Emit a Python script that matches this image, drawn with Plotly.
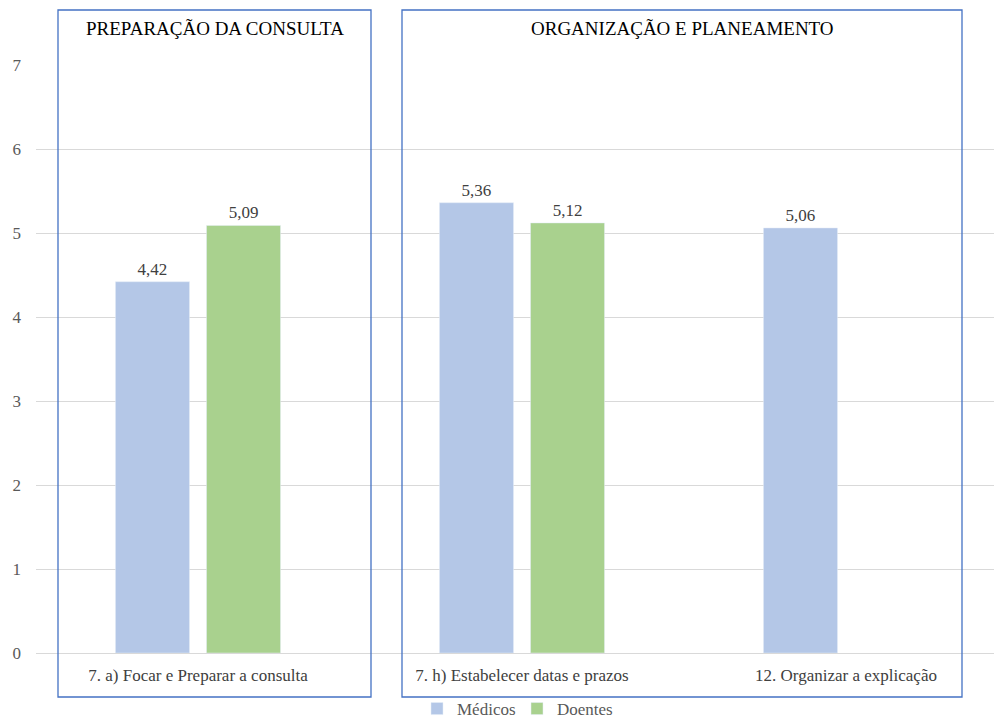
import plotly.graph_objects as go

categories = ["7. a) Focar e Preparar a consulta",
              "7. h) Estabelecer datas e prazos",
              "12. Organizar a explicação"]
medicos = [4.42, 5.36, 5.06]
doentes = [5.09, 5.12, None]
group_titles = ["PREPARAÇÃO DA CONSULTA", "ORGANIZAÇÃO E PLANEAMENTO"]
y_ticks = [0, 1, 2, 3, 4, 5, 6, 7]

FONT = "Liberation Serif"

fig = go.Figure()
fig.add_trace(go.Bar(name="Médicos", x=categories, y=medicos,
                     marker_color="#B4C7E7",
                     texttemplate="%{y:.2f}", textposition="outside",
                     textfont=dict(family=FONT, size=17, color="#404040"),
                     cliponaxis=False))
fig.add_trace(go.Bar(name="Doentes", x=categories, y=doentes,
                     marker_color="#A9D18E",
                     texttemplate="%{y:.2f}", textposition="outside",
                     textfont=dict(family=FONT, size=17, color="#404040"),
                     cliponaxis=False))

W, H = 994, 718
L, R, T, B = 36, 0, 65, 65
pw, ph = W - L - R, H - T - B

def px(x):
    return (x - L) / pw

def py(y):
    return (H - B - y) / ph

boxes = [(58, 10, 371, 697), (402, 10, 962, 697)]
for (x0, y0, x1, y1) in boxes:
    fig.add_shape(type="rect", xref="paper", yref="paper",
                  x0=px(x0), x1=px(x1), y0=py(y1), y1=py(y0),
                  line=dict(color="#4472C4", width=1.3), layer="above")

for (x0, y0, x1, y1), t in zip(boxes, group_titles):
    fig.add_annotation(xref="paper", yref="paper", x=px((x0 + x1) / 2), y=py(29),
                       text=t, showarrow=False, xanchor="center", yanchor="middle",
                       font=dict(family=FONT, size=19, color="#000000"))

fig.update_layout(
    width=W, height=H,
    margin=dict(l=L, r=R, t=T, b=B, autoexpand=False),
    paper_bgcolor="white", plot_bgcolor="white",
    separators=",.",
    barmode="group", bargap=0.438, bargroupgap=0.187,
    font=dict(family=FONT, color="#595959"),
    showlegend=True,
    legend=dict(orientation="h", x=px(517), xanchor="center", y=py(709), yanchor="middle",
                font=dict(family=FONT, size=17, color="#595959"),
                bgcolor="rgba(0,0,0,0)", itemwidth=30, entrywidth=55,
                traceorder="normal"),
)
fig.update_xaxes(range=[-0.5, 2.5 - 14 / 324], showgrid=False, showline=False,
                 automargin=False,
                 ticks="", tickfont=dict(family=FONT, size=17, color="#404040"),
                 ticklabelstandoff=10)
fig.update_yaxes(range=[0, 7], tickvals=y_ticks, showgrid=True, gridcolor="#D9D9D9",
                 gridwidth=1, zeroline=True, zerolinecolor="#D9D9D9", zerolinewidth=1,
                 automargin=False,
                 showline=False, tickfont=dict(family=FONT, size=17, color="#595959"),
                 ticklabelstandoff=14)

fig.write_html("out.html", config={"displayModeBar": False},
               post_script="document.body.style.margin='0';document.body.style.overflow='hidden';")
